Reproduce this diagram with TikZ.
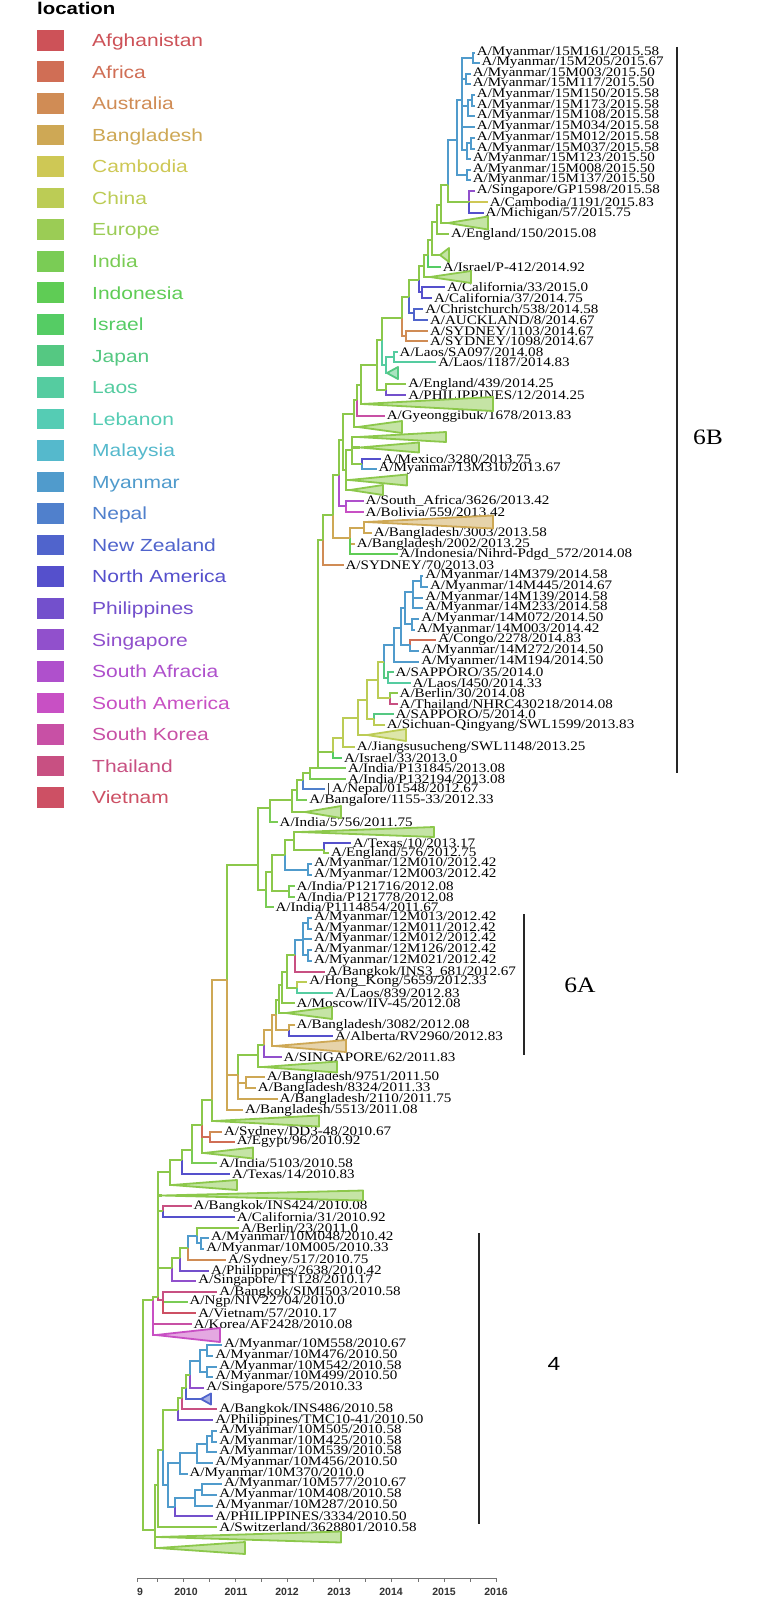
\documentclass[tikz,border=0pt]{standalone}
\usepackage{fontspec}
\setmainfont{Liberation Serif}
\newfontfamily\labfont[FakeStretch=1.16]{Liberation Serif}
\newfontfamily\legfont[FakeStretch=1.2]{Liberation Sans}
\newfontfamily\axfont{Liberation Sans}
\usetikzlibrary{calc}
\definecolor{cAfg}{RGB}{205,82,88}
\definecolor{cAfr}{RGB}{208,110,85}
\definecolor{cAus}{RGB}{208,140,85}
\definecolor{cBan}{RGB}{206,168,85}
\definecolor{cCam}{RGB}{206,200,85}
\definecolor{cChi}{RGB}{188,204,85}
\definecolor{cEur}{RGB}{155,204,85}
\definecolor{cInd}{RGB}{122,204,85}
\definecolor{cIndo}{RGB}{95,204,85}
\definecolor{cIsr}{RGB}{85,204,100}
\definecolor{cJap}{RGB}{85,200,130}
\definecolor{cLao}{RGB}{85,204,160}
\definecolor{cLeb}{RGB}{85,204,180}
\definecolor{cMal}{RGB}{85,185,204}
\definecolor{cMya}{RGB}{80,155,204}
\definecolor{cNep}{RGB}{80,128,204}
\definecolor{cNZ}{RGB}{80,100,204}
\definecolor{cNA}{RGB}{85,80,204}
\definecolor{cPhi}{RGB}{115,80,204}
\definecolor{cSin}{RGB}{145,80,204}
\definecolor{cSAf}{RGB}{175,80,204}
\definecolor{cSAm}{RGB}{200,80,196}
\definecolor{cSK}{RGB}{200,80,165}
\definecolor{cThai}{RGB}{200,80,130}
\definecolor{cViet}{RGB}{205,80,100}
\definecolor{gr}{RGB}{140,200,75}
\tikzset{
  br/.style={line width=2.2pt},
  lab/.style={anchor=west,inner sep=0pt,xshift=1.8pt,font=\labfont\fontsize{13}{13}\selectfont},
  tri/.style={line width=1.8pt,line join=round},
  bar/.style={line width=1.3pt,draw=black!85},
  leglab/.style={anchor=base west,inner sep=0pt,font=\legfont\fontsize{17.5}{17.5}\selectfont},
  axlab/.style={inner sep=0pt,font=\axfont\bfseries\fontsize{10.5}{10.5}\selectfont,text=black!80},
  cladelab/.style={inner sep=0pt,font=\labfont\fontsize{22}{22}\selectfont},
}
\newcommand\leaf[4]{%
  \pgfmathsetmacro\leafx{187.5+51.5*(#4-2010)}%
  \coordinate (#1) at (\leafx,#2);%
  \node[lab] (#1-t) at (#1) {#3/#4};}
\newcommand\clade[6]{%
  \coordinate (#1) at (#2,#4);%
  \draw[tri,draw=#6,fill=#6!50!white] (#1) -- (#3,#4-#5) -- (#3,#4+#5) -- cycle;}
\newcommand\ed[3]{\foreach \cc in {#3}{\draw[br,#1] (#2) |- (\cc);}}
\begin{document}
\begin{tikzpicture}[x=1pt,y=-1pt]
\fill[white] (0,0) rectangle (758,1600);
\useasboundingbox (0,0) rectangle (758,1600);
% ---------------- legend
\node[anchor=base west,inner sep=0pt,font=\legfont\bfseries\fontsize{17}{17}\selectfont] (legtitle) at (37,15) {location};
\foreach \n/\c [count=\i from 0] in {Afghanistan/cAfg,Africa/cAfr,Australia/cAus,Bangladesh/cBan,Cambodia/cCam,China/cChi,Europe/cEur,India/cInd,Indonesia/cIndo,Israel/cIsr,Japan/cJap,Laos/cLao,Lebanon/cLeb,Malaysia/cMal,Myanmar/cMya,Nepal/cNep,New Zealand/cNZ,North America/cNA,Philippines/cPhi,Singapore/cSin,South Afracia/cSAf,South America/cSAm,South Korea/cSK,Thailand/cThai,Vietnam/cViet}{
  \pgfmathsetmacro\yy{40.3+31.55*\i}
  \fill[\c] (37,\yy-10.35) rectangle (64,\yy+10.35);
  \node[leglab,text=\c] (leg\i) at (92,\yy+6.3) {\n};
}
% ---------------- leaves
\leaf{m161}{53}{A/Myanmar/15M161}{2015.58}
\leaf{m205}{63}{A/Myanmar/15M205}{2015.67}
\leaf{m003}{74}{A/Myanmar/15M003}{2015.50}
\leaf{m117}{84}{A/Myanmar/15M117}{2015.50}
\leaf{m150}{95}{A/Myanmar/15M150}{2015.58}
\leaf{m173}{106}{A/Myanmar/15M173}{2015.58}
\leaf{m108}{116}{A/Myanmar/15M108}{2015.58}
\leaf{m034}{127}{A/Myanmar/15M034}{2015.58}
\leaf{m012}{138}{A/Myanmar/15M012}{2015.58}
\leaf{m037}{149}{A/Myanmar/15M037}{2015.58}
\leaf{m123}{159}{A/Myanmar/15M123}{2015.50}
\leaf{m008}{170}{A/Myanmar/15M008}{2015.50}
\leaf{m137}{180}{A/Myanmar/15M137}{2015.50}
\leaf{sgp}{191}{A/Singapore/GP1598}{2015.58}
\leaf{cam}{202}{A/Cambodia/1191}{2015.83}
\leaf{mic}{213}{A/Michigan/57}{2015.75}
\leaf{eng150}{234}{A/England/150}{2015.08}
\leaf{isrp}{267}{A/Israel/P-412}{2014.92}
\leaf{cal33}{287}{A/California/33}{2015.0}
\leaf{cal37}{298}{A/California/37}{2014.75}
\leaf{chc}{309}{A/Christchurch/538}{2014.58}
\leaf{auk}{320}{A/AUCKLAND/8}{2014.67}
\leaf{sydA}{331}{A/SYDNEY/1103}{2014.67}
\leaf{sydB}{341}{A/SYDNEY/1098}{2014.67}
\leaf{laossa}{352}{A/Laos/SA097}{2014.08}
\leaf{laosB}{362}{A/Laos/1187}{2014.83}
\leaf{eng439}{384}{A/England/439}{2014.25}
\leaf{phi12}{395}{A/PHILIPPINES/12}{2014.25}
\leaf{gye}{416}{A/Gyeonggibuk/1678}{2013.83}
\leaf{mex}{459}{A/Mexico/3280}{2013.75}
\leaf{mya13}{469}{A/Myanmar/13M310}{2013.67}
\leaf{saf}{501}{A/South\_Africa/3626}{2013.42}
\leaf{bol}{512}{A/Bolivia/559}{2013.42}
\leaf{banA}{533}{A/Bangladesh/3003}{2013.58}
\leaf{banB}{544}{A/Bangladesh/2002}{2013.25}
\leaf{indo}{554}{A/Indonesia/Nihrd-Pdgd\_572}{2014.08}
\leaf{syd70}{565}{A/SYDNEY/70}{2013.03}
\leaf{n379}{576}{A/Myanmar/14M379}{2014.58}
\leaf{n445}{587}{A/Myanmar/14M445}{2014.67}
\leaf{n139}{598}{A/Myanmar/14M139}{2014.58}
\leaf{n233}{608}{A/Myanmar/14M233}{2014.58}
\leaf{n072}{619}{A/Myanmar/14M072}{2014.50}
\leaf{n003}{630}{A/Myanmar/14M003}{2014.42}
\leaf{con}{640}{A/Congo/2278}{2014.83}
\leaf{n272}{651}{A/Myanmar/14M272}{2014.50}
\leaf{n194}{662}{A/Myanmer/14M194}{2014.50}
\leaf{sapA}{672}{A/SAPPORO/35}{2014.0}
\leaf{laoI}{683}{A/Laos/I450}{2014.33}
\leaf{berA}{693}{A/Berlin/30}{2014.08}
\leaf{thai}{704}{A/Thailand/NHRC430218}{2014.08}
\leaf{sapB}{714}{A/SAPPORO/5}{2014.0}
\leaf{sic}{725}{A/Sichuan-Qingyang/SWL1599}{2013.83}
\leaf{jia}{747}{A/Jiangsusucheng/SWL1148}{2013.25}
\leaf{isr33}{758}{A/Israel/33}{2013.0}
\leaf{ipA}{768}{A/India/P131845}{2013.08}
\leaf{ipB}{779}{A/India/P132194}{2013.08}
\leaf{nep}{789}{|\,A/Nepal/01548}{2012.67}
\leaf{bgl}{800}{A/Bangalore/1155-33}{2012.33}
\leaf{iA}{822}{A/India/5756}{2011.75}
\leaf{texA}{843}{A/Texas/10}{2013.17}
\leaf{eng576}{853}{A/England/576}{2012.75}
\leaf{o010}{864}{A/Myanmar/12M010}{2012.42}
\leaf{o003}{875}{A/Myanmar/12M003}{2012.42}
\leaf{ipC}{886}{A/India/P121716}{2012.08}
\leaf{ipD}{897}{A/India/P121778}{2012.08}
\leaf{ipE}{907}{A/India/P1114854}{2011.67}
\leaf{o013}{918}{A/Myanmar/12M013}{2012.42}
\leaf{o011}{929}{A/Myanmar/12M011}{2012.42}
\leaf{o012}{939}{A/Myanmar/12M012}{2012.42}
\leaf{o126}{950}{A/Myanmar/12M126}{2012.42}
\leaf{o021}{961}{A/Myanmar/12M021}{2012.42}
\leaf{bkkA}{972}{A/Bangkok/INS3\_681}{2012.67}
\leaf{hk}{982}{A/Hong\_Kong/5659}{2012.33}
\leaf{lao839}{993}{A/Laos/839}{2012.83}
\leaf{mos}{1003}{A/Moscow/IIV-45}{2012.08}
\leaf{banC}{1025}{A/Bangladesh/3082}{2012.08}
\leaf{alb}{1036}{A/Alberta/RV2960}{2012.83}
\leaf{sg62}{1057}{A/SINGAPORE/62}{2011.83}
\leaf{banD}{1077}{A/Bangladesh/9751}{2011.50}
\leaf{banE}{1088}{A/Bangladesh/8324}{2011.33}
\leaf{banF}{1099}{A/Bangladesh/2110}{2011.75}
\leaf{banG}{1110}{A/Bangladesh/5513}{2011.08}
\leaf{sydd}{1132}{A/Sydney/DD3-48}{2010.67}
\leaf{egy}{1142}{A/Egypt/96}{2010.92}
\leaf{iB}{1163}{A/India/5103}{2010.58}
\leaf{texB}{1174}{A/Texas/14}{2010.83}
\leaf{bkkB}{1206}{A/Bangkok/INS424}{2010.08}
\leaf{cal31}{1217}{A/California/31}{2010.92}
\leaf{berB}{1228}{A/Berlin/23}{2011.0}
\leaf{p048}{1238}{A/Myanmar/10M048}{2010.42}
\leaf{p005}{1249}{A/Myanmar/10M005}{2010.33}
\leaf{syd517}{1260}{A/Sydney/517}{2010.75}
\leaf{phiA}{1271}{A/Philippines/2638}{2010.42}
\leaf{sgtt}{1281}{A/Singapore/TT128}{2010.17}
\leaf{bkkC}{1292}{A/Bangkok/SIMI503}{2010.58}
\leaf{ngp}{1302}{A/Ngp/NIV22704}{2010.0}
\leaf{vie}{1313}{A/Vietnam/57}{2010.17}
\leaf{kor}{1324}{A/Korea/AF2428}{2010.08}
\leaf{p558}{1345}{A/Myanmar/10M558}{2010.67}
\leaf{p476}{1356}{A/Myanmar/10M476}{2010.50}
\leaf{p542}{1367}{A/Myanmar/10M542}{2010.58}
\leaf{p499}{1377}{A/Myanmar/10M499}{2010.50}
\leaf{sg575}{1388}{A/Singapore/575}{2010.33}
\leaf{bkkD}{1409}{A/Bangkok/INS486}{2010.58}
\leaf{phiB}{1420}{A/Philippines/TMC10-41}{2010.50}
\leaf{p505}{1431}{A/Myanmar/10M505}{2010.58}
\leaf{p425}{1442}{A/Myanmar/10M425}{2010.58}
\leaf{p539}{1452}{A/Myanmar/10M539}{2010.58}
\leaf{p456}{1463}{A/Myanmar/10M456}{2010.50}
\leaf{p370}{1474}{A/Myanmar/10M370}{2010.0}
\leaf{p577}{1484}{A/Myanmar/10M577}{2010.67}
\leaf{p408}{1495}{A/Myanmar/10M408}{2010.58}
\leaf{p287}{1506}{A/Myanmar/10M287}{2010.50}
\leaf{phiC}{1516}{A/PHILIPPINES/3334}{2010.50}
\leaf{swi}{1527}{A/Switzerland/3628801}{2010.58}
% ---------------- collapsed clades
\clade{T1x}{448}{488}{223}{6.5}{gr}
\clade{T2x}{440}{449}{255}{7}{gr}
\clade{T3x}{430}{471}{277}{6}{gr}
\clade{T4x}{387}{398}{373}{6}{cJap}
\clade{T5x}{362}{493}{404}{7}{gr}
\clade{T6x}{358}{402}{427}{6}{gr}
\clade{T7x}{358}{446}{437}{5}{gr}
\clade{T8x}{360}{419}{447.5}{5}{gr}
\clade{T9x}{349}{407}{480}{5.5}{gr}
\clade{T10x}{350}{383}{490}{5}{gr}
\clade{TB1x}{366}{493}{522}{6.5}{cBan}
\clade{T11x}{367}{406}{735}{6}{cChi}
\clade{T12x}{305}{341}{812}{6}{gr}
\clade{T13x}{299}{434}{832}{5}{gr}
\clade{T14x}{286}{332}{1013}{6}{gr}
\clade{TB2x}{275}{346}{1046}{6}{cBan}
\clade{T15x}{263}{337}{1067}{5.5}{gr}
\clade{T16x}{214}{319}{1121}{5.5}{gr}
\clade{T17x}{204}{253}{1153}{5.5}{gr}
\clade{T18x}{172}{237}{1185}{5}{gr}
\clade{T19x}{162}{363}{1195.5}{5}{gr}
\clade{T20x}{156}{220}{1335}{7}{cSAm}
\clade{T23x}{201}{211}{1399}{5.5}{cNZ}
\clade{T21x}{158}{341}{1537}{5.5}{gr}
\clade{T22x}{158}{245}{1548}{6}{gr}
% ---------------- internal nodes
\coordinate (a1) at (473,58);  \coordinate (a2) at (466,79);
\coordinate (b1) at (472,100); \coordinate (b2) at (468,106);
\coordinate (b3) at (471,143); \coordinate (b4) at (467,150);
\coordinate (a4) at (462,100); \coordinate (c1) at (467,175);
\coordinate (a5) at (457,140); \coordinate (S1) at (469,202);
\coordinate (a6) at (448,185); \coordinate (a7) at (441,205);
\coordinate (a8) at (437,222); \coordinate (a9) at (432,240);
\coordinate (a10) at (428,255); \coordinate (a11) at (424,266);
\coordinate (C1) at (422,292); \coordinate (b5) at (419,280);
\coordinate (N1) at (414,313); \coordinate (b6) at (409,297);
\coordinate (A1) at (406,336); \coordinate (b7) at (402,318);
\coordinate (L1) at (394,357); \coordinate (L2) at (386,365);
\coordinate (b8) at (382,340); \coordinate (E1) at (386,390);
\coordinate (b9) at (377,365); \coordinate (b10) at (361,385);
\coordinate (b11) at (357,400); \coordinate (b12) at (354,414);
\coordinate (X1) at (362,464); \coordinate (b13) at (352,450);
\coordinate (b14) at (346,470); \coordinate (b15) at (343,440);
\coordinate (SA1) at (346,506); \coordinate (b16) at (339,475);
\coordinate (B1) at (364,528); \coordinate (B2) at (350,538);
\coordinate (b17) at (333,515); \coordinate (b18) at (323,540);
\coordinate (P1) at (421,581); \coordinate (P2) at (413,592);
\coordinate (P3) at (412,624); \coordinate (P4) at (405,608);
\coordinate (P5) at (410,645); \coordinate (P6) at (401,628);
\coordinate (P7) at (394,645); \coordinate (J1) at (388,678);
\coordinate (P8) at (384,662); \coordinate (E2) at (390,698);
\coordinate (P9) at (378,680); \coordinate (J2) at (374,719);
\coordinate (P10) at (367,700); \coordinate (P11) at (358,718);
\coordinate (P12) at (343,738); \coordinate (P13) at (333,752);
\coordinate (b19) at (318,768); \coordinate (b20) at (310,773);
\coordinate (b21) at (303,780); \coordinate (b22) at (297,790);
\coordinate (b23) at (292,800); \coordinate (b24) at (270,808);
\coordinate (X2) at (324,850); \coordinate (b25) at (294,840);
\coordinate (M12) at (308,870); \coordinate (b26) at (285,855);
\coordinate (I2) at (289,891); \coordinate (b27) at (272,872);
\coordinate (b28) at (266,890); \coordinate (b29) at (258,865);
\coordinate (M13) at (308,923); \coordinate (M14) at (308,955);
\coordinate (M15) at (303,940); \coordinate (M16) at (295,955);
\coordinate (Q1) at (297,988); \coordinate (Q2) at (287,972);
\coordinate (Q3) at (282,985); \coordinate (Q4) at (279,1000);
\coordinate (Q5) at (289,1030); \coordinate (Q6) at (276,1015);
\coordinate (Q7) at (272,1030); \coordinate (Q8) at (264,1045);
\coordinate (Q9) at (258,1055); \coordinate (B5) at (246,1083);
\coordinate (B6) at (238,1075); \coordinate (B7) at (227,980);
\coordinate (H1) at (212,1100); \coordinate (SY) at (210,1137);
\coordinate (H2) at (202,1125); \coordinate (H3) at (192,1150);
\coordinate (H4) at (182,1160); \coordinate (H5) at (170,1172);
\coordinate (K1) at (163,1211); \coordinate (K2) at (201,1243);
\coordinate (K3) at (197,1236); \coordinate (K4) at (188,1248);
\coordinate (K5) at (180,1258); \coordinate (K6) at (172,1268);
\coordinate (K7) at (163,1300); \coordinate (K8) at (158,1297);
\coordinate (K9) at (153,1300);
\coordinate (U1) at (207,1350); \coordinate (U2) at (207,1372);
\coordinate (U3) at (200,1361); \coordinate (U4) at (190,1375);
\coordinate (U5) at (186,1388); \coordinate (U6) at (182,1398);
\coordinate (U7) at (178,1410);
\coordinate (V1) at (212,1436); \coordinate (V2) at (207,1444);
\coordinate (V3) at (197,1453); \coordinate (V4) at (180,1463);
\coordinate (V5) at (202,1490); \coordinate (V6) at (195,1498);
\coordinate (V7) at (175,1507); \coordinate (V8) at (168,1485);
\coordinate (U8) at (163,1450); \coordinate (U9) at (158,1485);
\coordinate (U10) at (155,1530); \coordinate (R) at (143,1415);
% ---------------- edges
\ed{cMya}{a1}{m161,m205}
\ed{cMya}{a2}{m003,m117}
\ed{cMya}{b1}{m150,m173}
\ed{cMya}{b2}{b1,m108}
\ed{cMya}{b3}{m012,m037}
\ed{cMya}{b4}{b3,m123}
\ed{cMya}{a4}{a1,a2,b2,m034,b4}
\ed{cMya}{c1}{m008,m137}
\ed{cMya}{a5}{a4,c1}
\ed{cSin}{S1}{sgp}
\ed{cCam}{S1}{cam}
\ed{cNA}{S1}{mic}
\ed{cMya}{a6}{a5}
\ed{gr}{a6}{S1}
\ed{gr}{a7}{a6,T1x}
\ed{gr}{a8}{a7,eng150}
\ed{gr}{a9}{a8,T2x}
\ed{gr}{a10}{a9}
\ed{cIsr}{a10}{isrp}
\ed{gr}{a11}{a10,T3x}
\ed{cNA}{C1}{cal33,cal37}
\ed{gr}{b5}{a11}
\ed{cNA}{b5}{C1}
\ed{cNZ}{N1}{chc,auk}
\ed{gr}{b6}{b5}
\ed{cNZ}{b6}{N1}
\ed{cAus}{A1}{sydA,sydB}
\ed{gr}{b7}{b6}
\ed{cAus}{b7}{A1}
\ed{cLao}{L1}{laossa,laosB}
\ed{cLao}{L2}{L1,T4x}
\ed{gr}{b8}{b7}
\ed{cLao}{b8}{L2}
\ed{gr}{E1}{eng439}
\ed{cPhi}{E1}{phi12}
\ed{gr}{b9}{b8,E1}
\ed{gr}{b10}{b9,T5x}
\ed{gr}{b11}{b10}
\ed{cSK}{b11}{gye}
\ed{gr}{b12}{b11,T6x}
\ed{cNA}{X1}{mex}
\ed{cMya}{X1}{mya13}
\ed{gr}{b13}{T7x,T8x,X1}
\ed{gr}{b14}{b13,T9x,T10x}
\ed{gr}{b15}{b12,b14}
\ed{cSAf}{SA1}{saf}
\ed{cSAm}{SA1}{bol}
\ed{gr}{b16}{b15}
\ed{cSAf}{b16}{SA1}
\ed{cBan}{B1}{TB1x,banA}
\ed{cBan}{B2}{B1,banB}
\ed{cIndo}{B2}{indo}
\ed{gr}{b17}{b16}
\ed{cBan}{b17}{B2}
\ed{gr}{b18}{b17}
\ed{cAus}{b18}{syd70}
\ed{cMya}{P1}{n379,n445}
\ed{cMya}{P2}{P1,n139,n233}
\ed{cMya}{P3}{n072,n003}
\ed{cMya}{P4}{P2,P3}
\ed{cAfr}{P5}{con}
\ed{cMya}{P5}{n272}
\ed{cMya}{P6}{P4,P5}
\ed{cMya}{P7}{P6,n194}
\ed{cJap}{J1}{sapA}
\ed{cLao}{J1}{laoI}
\ed{cMya}{P8}{P7}
\ed{cJap}{P8}{J1}
\ed{gr}{E2}{berA}
\ed{cThai}{E2}{thai}
\ed{cChi}{P9}{P8,E2}
\ed{cJap}{J2}{sapB}
\ed{cChi}{J2}{sic}
\ed{cChi}{P10}{P9,J2}
\ed{cChi}{P11}{P10,T11x}
\ed{cChi}{P12}{P11,jia}
\ed{cChi}{P13}{P12}
\ed{cIsr}{P13}{isr33}
\ed{gr}{b19}{b18,P13}
\ed{cInd}{b19}{ipA}
\ed{gr}{b20}{b19}
\ed{cInd}{b20}{ipB}
\ed{gr}{b21}{b20}
\ed{cNep}{b21}{nep}
\ed{gr}{b22}{b21}
\ed{cInd}{b22}{bgl}
\ed{gr}{b23}{b22,T12x}
\ed{gr}{b24}{b23}
\ed{cInd}{b24}{iA}
\ed{cNA}{X2}{texA}
\ed{gr}{X2}{eng576}
\ed{gr}{b25}{T13x,X2}
\ed{cMya}{M12}{o010,o003}
\ed{gr}{b26}{b25}
\ed{cMya}{b26}{M12}
\ed{cInd}{I2}{ipC,ipD}
\ed{gr}{b27}{b26,I2}
\ed{gr}{b28}{b27}
\ed{cInd}{b28}{ipE}
\ed{gr}{b29}{b24,b28}
\ed{cMya}{M13}{o013,o011}
\ed{cMya}{M14}{o126,o021}
\ed{cMya}{M15}{M13,o012,M14}
\ed{cMya}{M16}{M15}
\ed{cThai}{M16}{bkkA}
\ed{cChi}{Q1}{hk}
\ed{cLao}{Q1}{lao839}
\ed{gr}{Q2}{M16,Q1}
\ed{gr}{Q3}{Q2,mos}
\ed{gr}{Q4}{Q3,T14x}
\ed{cBan}{Q5}{banC}
\ed{cNA}{Q5}{alb}
\ed{gr}{Q6}{Q4}
\ed{cBan}{Q6}{Q5}
\ed{cBan}{Q7}{Q6,TB2x}
\ed{cBan}{Q8}{Q7}
\ed{cSin}{Q8}{sg62}
\ed{gr}{Q9}{Q8,T15x}
\ed{cBan}{B5}{banD,banE}
\ed{gr}{B6}{Q9}
\ed{cBan}{B6}{B5,banF}
\ed{gr}{B7}{b29}
\ed{cBan}{B7}{B6,banG}
\ed{cBan}{H1}{B7}
\ed{gr}{H1}{T16x}
\ed{cAus}{SY}{sydd}
\ed{cAfr}{SY}{egy}
\ed{gr}{H2}{H1,T17x}
\ed{cAfr}{H2}{SY}
\ed{gr}{H3}{H2}
\ed{cInd}{H3}{iB}
\ed{gr}{H4}{H3}
\ed{cNA}{H4}{texB}
\ed{gr}{H5}{H4,T18x}
\ed{cThai}{K1}{bkkB}
\ed{cNA}{K1}{cal31}
\ed{cMya}{K2}{p048,p005}
\ed{gr}{K3}{berB}
\ed{cMya}{K3}{K2}
\ed{cMya}{K4}{K3}
\ed{cAus}{K4}{syd517}
\ed{gr}{K5}{K4}
\ed{cPhi}{K5}{phiA}
\ed{gr}{K6}{K5}
\ed{cSin}{K6}{sgtt}
\ed{cThai}{K7}{bkkC}
\ed{cInd}{K7}{ngp}
\ed{cViet}{K7}{vie}
\ed{gr}{K8}{H5,T19x,K1,K6}
\ed{cThai}{K8}{K7}
\ed{gr}{K9}{K8}
\ed{cSK}{K9}{kor}
\ed{cSAm}{K9}{T20x}
\ed{cMya}{U1}{p558,p476}
\ed{cMya}{U2}{p542,p499}
\ed{cMya}{U3}{U1,U2}
\ed{cMya}{U4}{U3}
\ed{cSin}{U4}{sg575}
\ed{gr}{U5}{U4}
\ed{cNZ}{U5}{T23x}
\ed{gr}{U6}{U5}
\ed{cThai}{U6}{bkkD}
\ed{gr}{U7}{U6}
\ed{cPhi}{U7}{phiB}
\ed{cMya}{V1}{p505,p425}
\ed{cMya}{V2}{V1,p539}
\ed{cMya}{V3}{V2,p456}
\ed{cMya}{V4}{V3,p370}
\ed{cMya}{V5}{p577,p408}
\ed{cMya}{V6}{V5,p287}
\ed{cMya}{V7}{V6}
\ed{cPhi}{V7}{phiC}
\ed{cMya}{V8}{V4,V7}
\ed{gr}{U8}{U7}
\ed{cMya}{U8}{V8}
\ed{gr}{U9}{U8,swi}
\ed{gr}{U10}{U9,T21x,T22x}
\ed{gr}{R}{K9,U10}
% ---------------- clade bars
\draw[bar] (677,47) coordinate (g6Bt) -- (677,773) coordinate (g6Bb);
\node[cladelab] (l6B) at (708,437) {6B};
\draw[bar] (524,914) coordinate (g6At) -- (524,1055) coordinate (g6Ab);
\node[cladelab] (l6A) at (580,985) {6A};
\draw[bar] (479,1233) coordinate (g4t) -- (479,1524) coordinate (g4b);
\node[inner sep=0pt,font=\legfont\fontsize{19}{19}\selectfont] (l4) at (554,1364) {4};
% ---------------- time axis
\draw[black!55,line width=0.9pt] (137.5,1578) coordinate (axL) -- (496,1578) coordinate (axR);
\foreach \x in {137.5,157,183,209,235,261,287,313,339,365,391,418,444,470,496}
  \draw[black!55,line width=0.9pt] (\x,1578) -- (\x,1582);
\node[axlab] (ax9) at (140,1592) {9};
\foreach \x/\t in {186/2010,236/2011,287/2012,339/2013,391/2014,444/2015,496/2016}
  \node[axlab] (ax\t) at (\x,1592) {\t};
\end{tikzpicture}
\end{document}
